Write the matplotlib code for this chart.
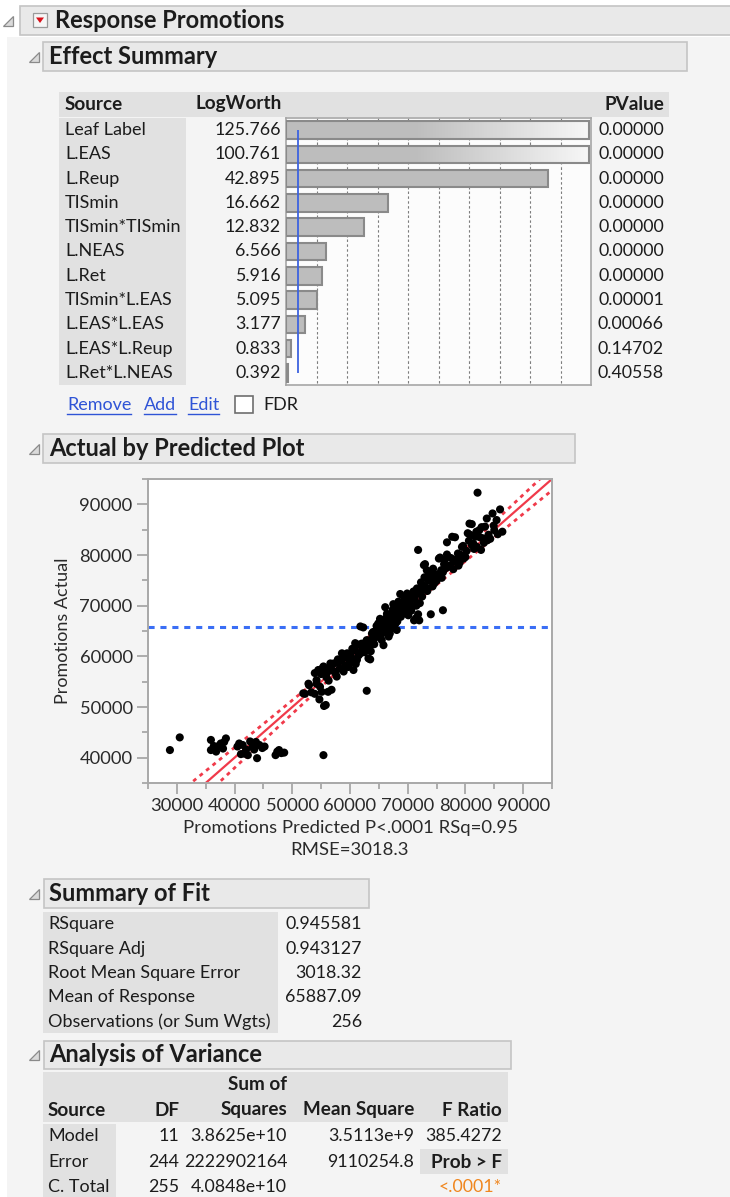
import numpy as np
import matplotlib
matplotlib.use("Agg")
import matplotlib.pyplot as plt
from matplotlib.patches import Rectangle, Polygon
from matplotlib.ticker import MultipleLocator

W, H = 730, 1197
plt.rcParams['font.family'] = ['Lato', 'DejaVu Sans']

# ---- Effect Summary ----
sources = ["Leaf Label", "L.EAS", "L.Reup", "TISmin", "TISmin*TISmin", "L.NEAS",
           "L.Ret", "TISmin*L.EAS", "L.EAS*L.EAS", "L.EAS*L.Reup", "L.Ret*L.NEAS"]
logworth = [125.766, 100.761, 42.895, 16.662, 12.832, 6.566, 5.916, 5.095, 3.177, 0.833, 0.392]
pvalues = ["0.00000", "0.00000", "0.00000", "0.00000", "0.00000", "0.00000",
           "0.00000", "0.00001", "0.00066", "0.14702", "0.40558"]
logworth_threshold = 2.0

# ---- Summary of Fit ----
fit_labels = ["RSquare", "RSquare Adj", "Root Mean Square Error", "Mean of Response",
              "Observations (or Sum Wgts)"]
fit_values = ["0.945581", "0.943127", "3018.32", "65887.09", "256"]

# ---- Analysis of Variance ----
anova_source = ["Model", "Error", "C. Total"]
anova_df = ["11", "244", "255"]
anova_ss = ["3.8625e+10", "2222902164", "4.0848e+10"]
anova_ms = ["3.5113e+9", "9110254.8", ""]
f_ratio = "385.4272"
prob_f = "<.0001*"

mean_response = 65887.09
rmse = 3018.3

# ---- Actual by Predicted (thousands) ----
pred_k = [
    28.8, 30.5, 35.9, 35.9, 36.4, 37.0, 37.6, 38.0, 38.5, 38.2, 36.8, 40.5, 40.8, 41.1, 41.4, 41.7,
    42.0, 42.3, 42.7, 43.1, 43.4, 43.7, 43.9, 44.3, 44.8, 45.2, 47.1, 47.4, 47.7, 48.1, 48.6, 55.4,
    51.9, 52.2, 52.8, 52.9, 53.3, 53.9, 54.2, 54.2, 54.7, 55.1, 55.5, 55.8, 56.2, 56.8, 53.9, 54.5,
    55.2, 55.4, 55.9, 56.5, 56.6, 57.2, 57.5, 57.7, 58.2, 55.0, 56.0, 57.0, 54.8, 56.3,
    58.5, 58.6, 59.2, 59.5, 59.8, 60.0, 60.2, 60.6, 60.8, 60.9, 61.2, 61.5, 61.8, 62.1, 62.2, 62.5,
    62.8, 62.9, 62.9, 63.2, 63.5, 63.5, 63.0, 63.8, 63.3, 62.3, 61.8, 64.0, 64.2, 59.0, 60.4, 61.0,
    58.0, 59.7, 62.0,
    64.5, 64.6, 64.6, 64.8, 65.0, 65.2, 65.4, 65.5, 65.8, 65.8, 66.0, 66.1, 66.1, 66.4, 66.5, 66.8,
    66.9, 67.1, 67.2, 67.5, 67.5, 67.9, 68.1, 68.1, 68.2, 68.2, 68.7, 68.7, 68.8, 69.2, 69.5, 69.8,
    69.8, 70.1, 70.5, 70.6, 70.6, 70.8, 71.1, 71.2, 71.4, 64.9, 65.6, 66.3, 67.0, 67.7, 68.5, 69.0,
    69.4, 70.0, 70.3, 65.3, 66.7, 67.4, 69.9,
    71.6, 71.8, 71.8, 71.8, 72.0, 72.1, 72.1, 72.4, 72.7, 72.8, 73.0, 73.1, 73.3, 73.6, 73.8, 74.0,
    74.1, 74.1, 74.4, 74.8, 74.9, 75.4, 75.6, 75.8, 76.1, 76.1, 76.4, 76.8, 76.8, 77.1, 77.3, 72.5,
    73.4, 74.6, 75.2, 75.9, 76.6, 71.0, 72.9, 74.3,
    77.7, 78.1, 78.2, 78.5, 78.7, 79.0, 79.4, 79.6, 79.7, 80.2, 80.4, 80.7, 80.8, 81.1, 81.1, 81.4,
    81.7, 82.1, 82.4, 82.5, 82.7, 82.8, 83.0, 83.4, 83.7, 84.0, 84.7, 85.0, 85.4, 86.0, 86.4, 77.9,
    79.2, 80.0, 81.5, 82.0, 83.2, 84.3, 85.6, 78.8, 80.6, 81.9, 83.8, 84.9,
    64.0, 65.7, 66.6, 67.3, 68.4, 69.1, 69.6, 70.4, 70.9, 71.5, 72.3, 73.7, 75.0, 76.3, 77.5, 60.0,
    61.4, 63.6, 57.9, 58.9,
]
actual_k = [
    41.5, 44.0, 43.5, 41.5, 42.3, 42.2, 42.8, 41.8, 43.8, 43.1, 41.2, 42.2, 42.8, 40.7, 42.5, 40.8,
    41.6, 40.5, 43.2, 42.1, 41.6, 43.1, 39.9, 42.5, 41.9, 42.2, 40.5, 41.2, 41.5, 40.9, 41.0, 40.5,
    52.7, 52.6, 54.6, 54.3, 52.9, 52.6, 55.3, 54.6, 51.5, 53.0, 50.2, 50.4, 53.0, 53.4, 56.7, 57.3,
    57.6, 58.0, 55.9, 57.9, 58.6, 58.6, 56.6, 56.0, 57.6, 56.5, 56.8, 57.2, 54.0, 55.2,
    59.2, 60.6, 58.2, 60.6, 59.4, 60.3, 59.9, 57.3, 61.2, 62.6, 59.3, 60.2, 60.6, 61.3, 61.9, 60.8,
    62.9, 63.2, 53.2, 59.6, 59.4, 63.2, 62.0, 64.5, 61.7, 65.7, 65.9, 63.0, 62.4, 59.8, 61.5, 58.5,
    58.8, 57.9, 62.5,
    63.8, 63.9, 66.0, 65.2, 64.3, 67.4, 65.2, 63.2, 65.5, 62.2, 66.0, 66.8, 69.7, 68.4, 64.5, 65.8,
    64.5, 66.0, 67.1, 68.5, 70.3, 66.5, 65.2, 68.7, 69.8, 66.9, 72.3, 69.4, 67.8, 70.5, 69.1, 70.7,
    71.1, 68.1, 71.8, 72.1, 69.0, 69.8, 67.1, 71.3, 67.5, 66.5, 66.9, 67.6, 68.0, 67.5, 68.9, 68.3,
    71.6, 70.2, 69.3, 64.0, 63.9, 69.2, 72.4,
    73.4, 72.5, 81.0, 68.3, 67.1, 70.5, 72.4, 73.1, 74.0, 78.0, 78.2, 73.7, 77.0, 75.0, 75.0, 68.3,
    75.3, 76.7, 77.3, 75.7, 75.9, 79.3, 79.5, 77.0, 76.6, 69.1, 79.0, 82.5, 80.1, 77.7, 77.9, 71.8,
    72.9, 74.4, 76.2, 75.5, 77.4, 72.8, 75.6, 73.8,
    83.6, 78.7, 83.5, 79.2, 80.3, 78.5, 81.6, 81.8, 79.3, 80.8, 84.3, 86.2, 84.0, 82.0, 86.1, 82.2,
    83.6, 92.3, 84.9, 83.5, 81.0, 85.5, 83.3, 85.6, 87.2, 84.0, 88.2, 84.9, 86.9, 89.0, 84.6, 77.2,
    80.0, 79.6, 81.2, 81.6, 82.4, 83.2, 84.1, 77.9, 82.8, 84.6, 82.9, 85.8,
    64.8, 64.8, 66.2, 65.6, 70.8, 69.7, 68.9, 70.9, 71.5, 70.0, 74.6, 76.3, 74.9, 78.2, 79.4, 58.7,
    62.3, 61.0, 59.4, 57.0,
]
predicted = np.array(pred_k) * 1000
actual = np.array(actual_k) * 1000

PAGE = '#f4f4f4'
HEAD_FILL = '#e9e9e9'
HEAD_EDGE = '#c4c4c4'
CELL = '#e1e1e1'
TXT = '#1c1c1c'
FS = 13            # table text
FS_NUM = 12.8      # numbers in tables
FS_COL = 13.6      # bold column headings
FS_HEAD = 17       # section titles


def frac(x0, y0, x1, y1):
    return [x0 / W, 1 - y1 / H, (x1 - x0) / W, (y1 - y0) / H]


fig = plt.figure(figsize=(W / 100, H / 100), dpi=100, facecolor='white')
bg = fig.add_axes([0, 0, 1, 1])
bg.set_xlim(0, W)
bg.set_ylim(H, 0)
bg.axis('off')


def rect(x0, y0, x1, y1, fc, ec='none', lw=1.0, z=1):
    bg.add_patch(Rectangle((x0, y0), x1 - x0, y1 - y0, facecolor=fc, edgecolor=ec, lw=lw, zorder=z))


def txt(x, y, s, ha='left', bold=False, size=FS, color=TXT):
    return bg.text(x, y, s, ha=ha, va='center', fontsize=size, color=color,
                   fontweight='bold' if bold else 'normal', zorder=5)


def header(x0, y0, x1, y1, tri_x):
    rect(x0, y0, x1, y1, HEAD_FILL, HEAD_EDGE, 1.2, z=2)
    yc = (y0 + y1) / 2
    bg.add_patch(Polygon([(tri_x, yc + 5), (tri_x + 10, yc + 5), (tri_x + 10, yc - 5)],
                         closed=True, facecolor='#dadada', edgecolor='#8a8a8a', lw=0.9, zorder=3))
    return yc


# page panel
rect(7, 37, W, H, PAGE, z=0)

# ---- top report header ----
yc = header(20, 6, W + 5, 35, 3)
bg.add_patch(Rectangle((33, 13), 14, 14, facecolor='#f6f6f6', edgecolor='#9a9a9a', lw=0.9, zorder=3))
bg.add_patch(Polygon([(36, 17.5), (44, 17.5), (40, 23)], closed=True, facecolor='#d9111a',
                     edgecolor='none', zorder=4))
txt(55, yc, "Response Promotions", bold=True, size=FS_HEAD)

# ---- Effect Summary ----
yc = header(43, 42, 687, 71, 29)
txt(49, yc, "Effect Summary", bold=True, size=FS_HEAD)

rect(59, 92, 669, 117, CELL)
rect(59, 118, 186, 385, CELL)
txt(65, 104, "Source", bold=True, size=FS_COL)
txt(282, 104, "LogWorth", ha='right', bold=True, size=FS_COL)
txt(664, 104, "PValue", ha='right', bold=True, size=FS_COL)

row_top, row_bot = 118, 385
row_h = (row_bot - row_top) / len(sources)
for i, (s, lw_val, p) in enumerate(zip(sources, logworth, pvalues)):
    y = row_top + row_h * (i + 0.5)
    txt(65, y, s)
    txt(281, y, f"{lw_val:.3f}", ha='right', size=FS_NUM)
    txt(664, y, p, ha='right', size=FS_NUM)

# logworth bars
xmax = 50
bar_ax = fig.add_axes(frac(286, row_top, 591, row_bot))
bar_ax.set_facecolor('#fcfcfc')
bar_ax.set_xticks([])
bar_ax.set_yticks([])
for sp in bar_ax.spines.values():
    sp.set_color('#a6a6a6')
    sp.set_linewidth(1.2)
rows = np.arange(len(sources))
grid_x = np.arange(5, xmax, 5)
for i in rows:
    bar_ax.vlines(grid_x, i - 0.5, i + 0.5, colors='#7c7c7c', lw=0.8,
                  linestyles=(0, (2.2, 2.2)), zorder=1)
shown = np.minimum(logworth, xmax - 0.25)
bar_h = 0.72
bar_ax.barh(rows, shown, height=bar_h, color='#bdbdbd', edgecolor='none', zorder=2)
fade = np.linspace(0, 1, 200).reshape(1, -1)
white_fade = matplotlib.colors.LinearSegmentedColormap.from_list(
    'fade', [(1, 1, 1, 0), (1, 1, 1, 0.88)])
for i, v in enumerate(logworth):
    if v > xmax:
        bar_ax.imshow(fade, cmap=white_fade, aspect='auto', zorder=3,
                      extent=[21, xmax - 0.25, i + bar_h / 2, i - bar_h / 2])
bar_ax.barh(rows, shown, height=bar_h, color='none', edgecolor='#8a8a8a', lw=1.5, zorder=4)
bar_ax.vlines(logworth_threshold, 0, len(sources) - 1, colors='#3d63e0', lw=1.3, zorder=5)
bar_ax.set_xlim(0, xmax)
bar_ax.set_ylim(len(sources) - 0.5, -0.5)

# links and FDR checkbox
LINK = '#2f54d6'
fig.canvas.draw()
for label, x0 in [("Remove", 67), ("Add", 144), ("Edit", 188)]:
    t = txt(x0, 405, label, color=LINK)
    width = t.get_window_extent(renderer=fig.canvas.get_renderer()).width
    bg.plot([x0, x0 + width], [413.5, 413.5], color=LINK, lw=1.0, zorder=5)
rect(235, 396, 253, 413, 'white', '#6e6e6e', 1.2, z=3)
txt(263, 405, "FDR")

# ---- Actual by Predicted Plot ----
yc = header(43, 434, 575, 463, 29)
txt(49, yc, "Actual by Predicted Plot", bold=True, size=FS_HEAD)

sc = fig.add_axes(frac(148, 479, 552, 783))
sc.set_facecolor('white')
xs = np.linspace(25000, 95000, 200)
band = np.sqrt(600.0 ** 2 + (0.074 * (xs - mean_response)) ** 2)
sc.plot(xs, xs, color='#f03a4a', lw=1.6, zorder=2)
sc.plot(xs, xs + band, color='#f03a4a', lw=2.0, ls=(0, (1.4, 1.6)), zorder=2)
sc.plot(xs, xs - band, color='#f03a4a', lw=2.0, ls=(0, (1.4, 1.6)), zorder=2)
sc.axhline(mean_response, color='#3a6ef5', lw=2.2, ls=(0, (2.0, 1.9)), zorder=2)
sc.scatter(predicted, actual, s=34, color='black', edgecolors='none', zorder=3)
sc.set_xlim(25000, 95000)
sc.set_ylim(35000, 95000)

sc.set_xticks(np.arange(30000, 95000, 10000))
sc.set_yticks(np.arange(40000, 95000, 10000))
sc.xaxis.set_minor_locator(MultipleLocator(5000))
sc.yaxis.set_minor_locator(MultipleLocator(5000))
sc.tick_params(which='major', length=8, width=1.2, color='#a0a0a0', labelsize=13.2,
               labelcolor='#2a2a2a', pad=3)
sc.tick_params(which='minor', length=4, width=1.2, color='#a0a0a0')
for sp in sc.spines.values():
    sp.set_color('#a8a8a8')
    sp.set_linewidth(1.4)
sc.set_xlabel("Promotions Predicted P<.0001 RSq=0.95\nRMSE=3018.3", fontsize=FS + 0.3,
              color='#2a2a2a', labelpad=4, linespacing=1.45)
sc.set_ylabel("Promotions Actual", fontsize=FS, color='#2a2a2a', labelpad=6)

# ---- Summary of Fit ----
yc = header(44, 879, 369, 908, 29)
txt(49, yc, "Summary of Fit", bold=True, size=FS_HEAD)
rect(43, 912, 278, 1033, CELL)
fit_rows = [924, 949, 973, 997, 1022]
for y, lab, val in zip(fit_rows, fit_labels, fit_values):
    txt(48, y, lab)
    txt(362, y, val, ha='right', size=FS_NUM)

# ---- Analysis of Variance ----
yc = header(44, 1041, 511, 1069, 29)
txt(49, yc, "Analysis of Variance", bold=True, size=FS_HEAD)
rect(43, 1072, 508, 1122, CELL)
rect(43, 1124, 116, H, CELL)
txt(287, 1085, "Sum of", ha='right', bold=True, size=FS_COL)
txt(48, 1110, "Source", bold=True, size=FS_COL)
txt(179, 1110, "DF", ha='right', bold=True, size=FS_COL)
txt(287, 1110, "Squares", ha='right', bold=True, size=FS_COL)
txt(414, 1110, "Mean Square", ha='right', bold=True, size=FS_COL)
txt(502, 1110, "F Ratio", ha='right', bold=True, size=FS_COL)
anova_rows = [1136, 1162, 1187]
for y, s, d, ss, ms in zip(anova_rows, anova_source, anova_df, anova_ss, anova_ms):
    txt(48, y, s)
    txt(179, y, d, ha='right', size=FS_NUM)
    txt(287, y, ss, ha='right', size=FS_NUM)
    txt(414, y, ms, ha='right', size=FS_NUM)
txt(502, anova_rows[0], f_ratio, ha='right', size=FS_NUM)
rect(420, 1149, 508, 1174, CELL)
txt(502, anova_rows[1], "Prob > F", ha='right', bold=True, size=FS_COL)
txt(502, anova_rows[2], prob_f, ha='right', color='#f0861e', size=FS_NUM)

fig.savefig('out.png', dpi=100, facecolor=fig.get_facecolor())
